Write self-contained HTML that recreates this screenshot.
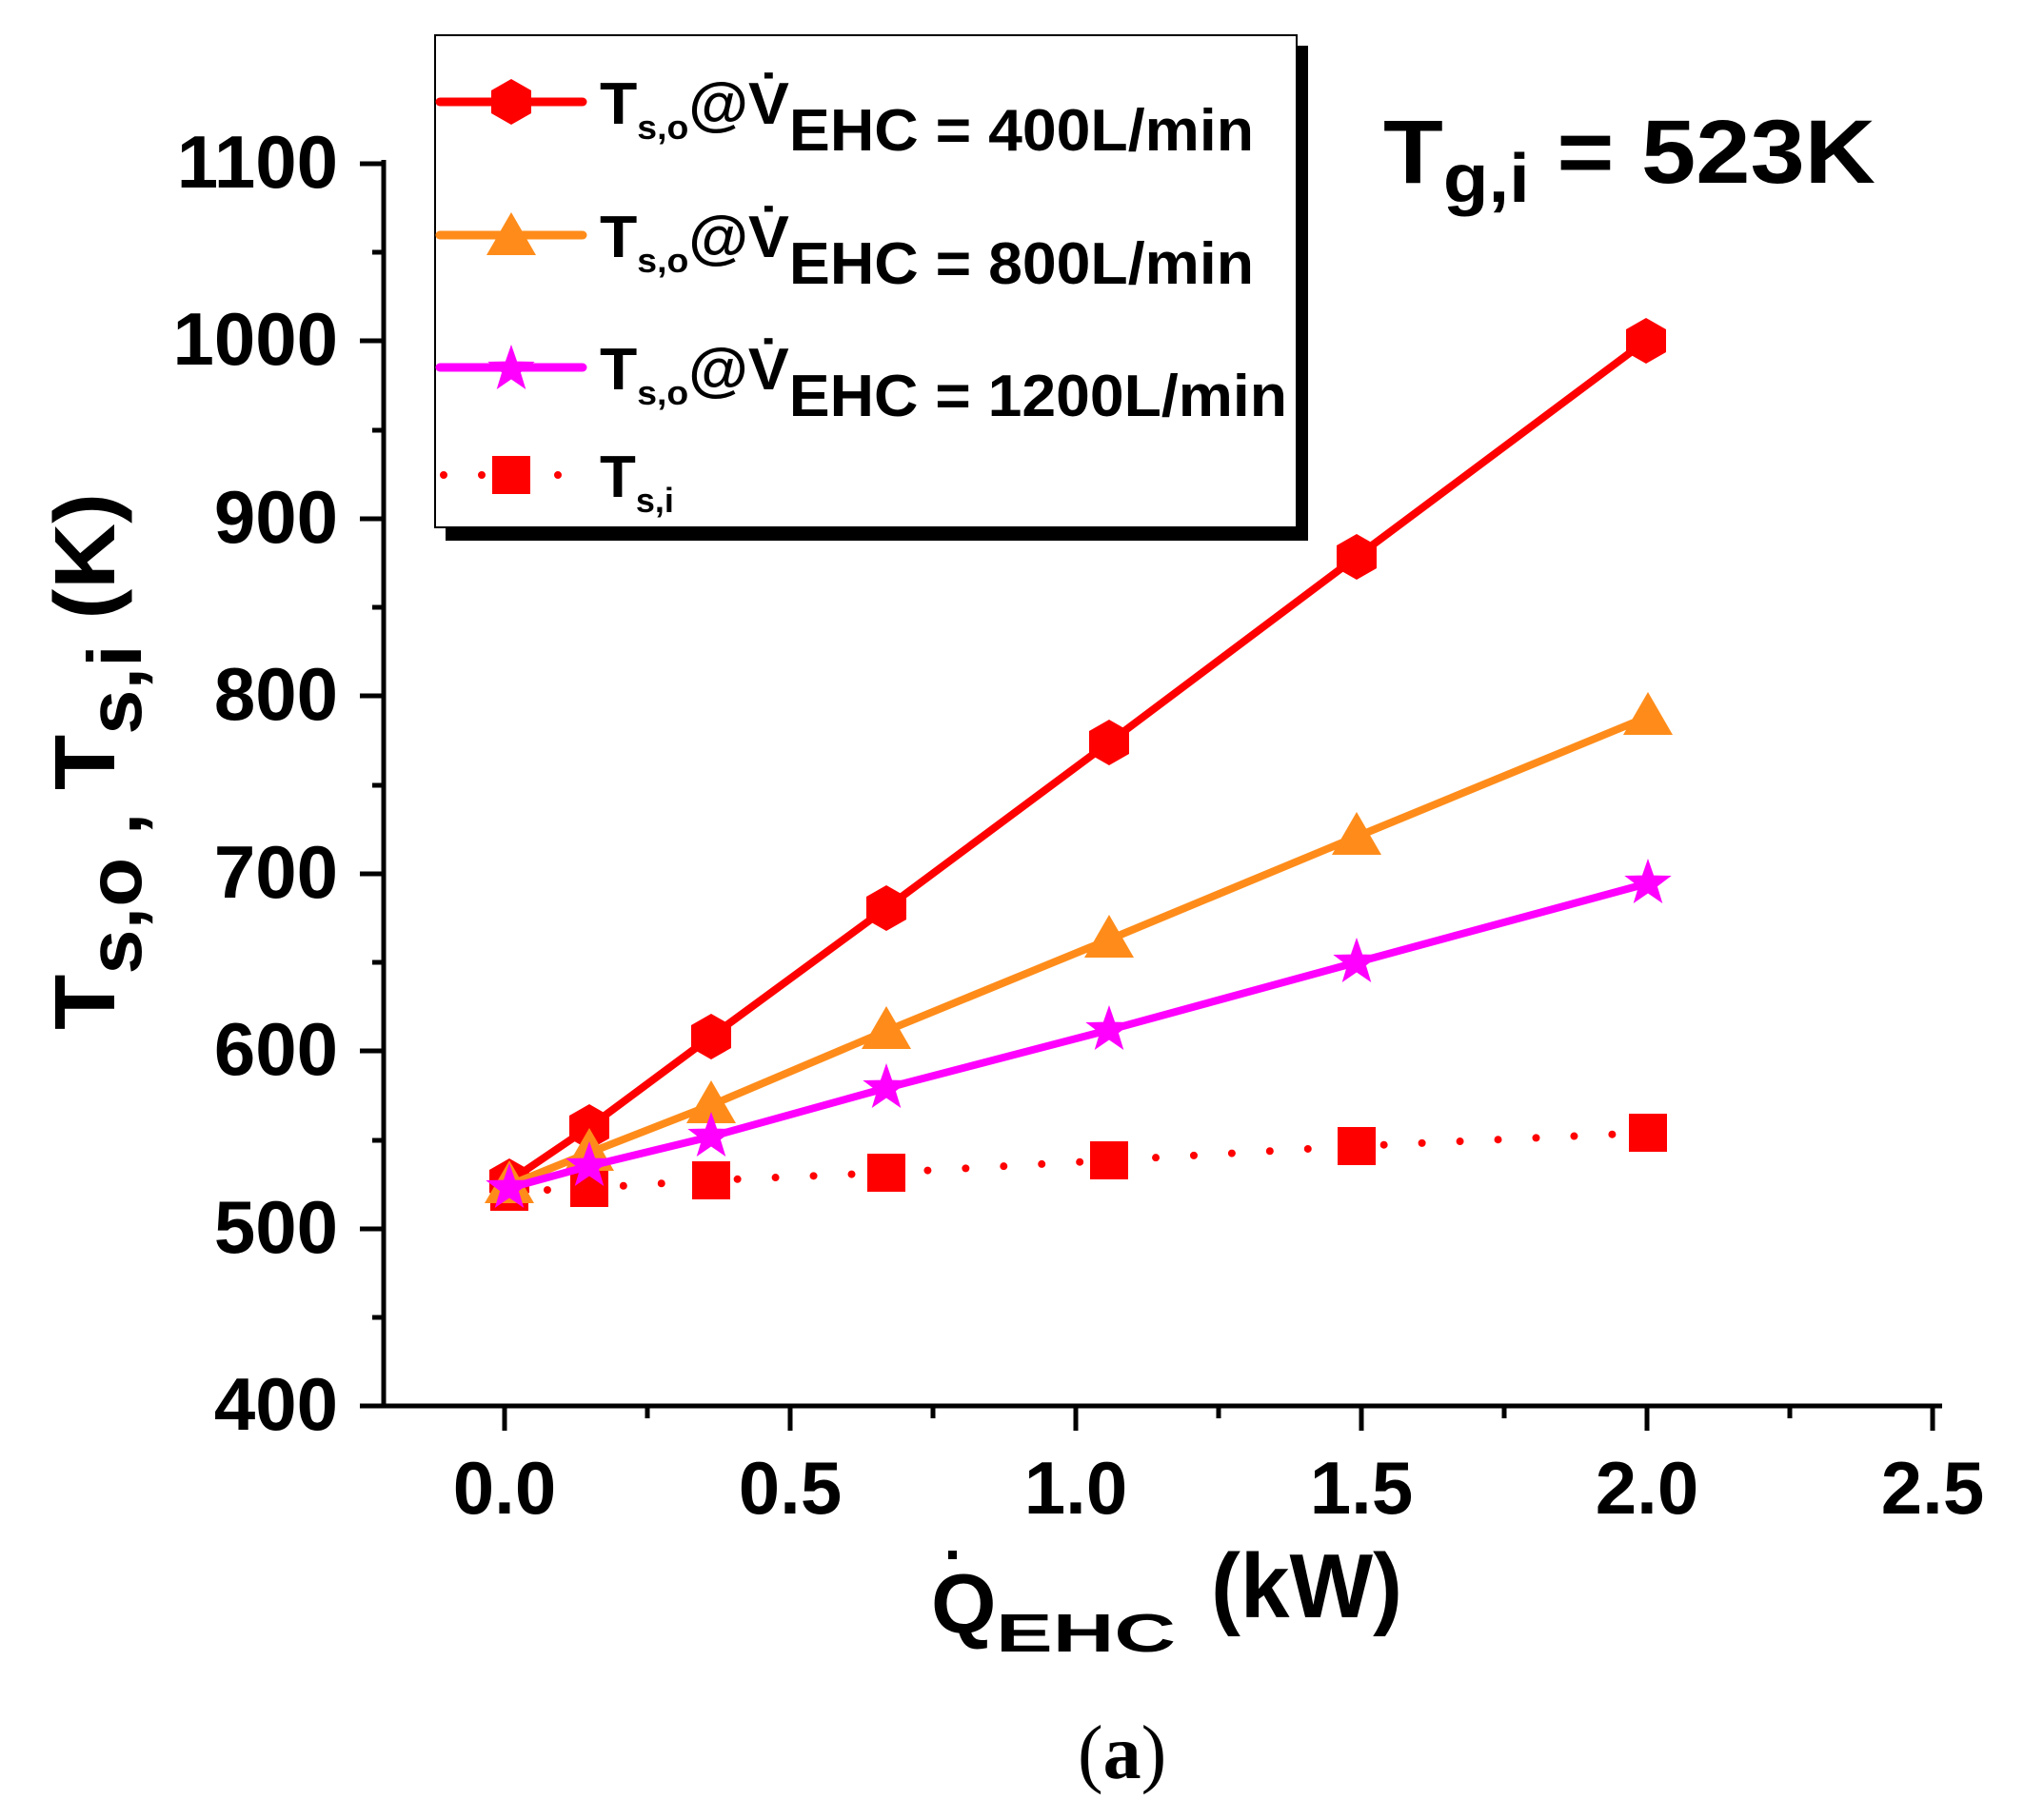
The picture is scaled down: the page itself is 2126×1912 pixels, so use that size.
<!DOCTYPE html>
<html><head><meta charset="utf-8"><style>
html,body{margin:0;padding:0;background:#fff;}
svg{display:block;}
text{font-family:"Liberation Sans",Arial,sans-serif;font-weight:bold;fill:#000;}
</style></head><body>
<svg width="2126" height="1912" viewBox="0 0 2126 1912" xmlns="http://www.w3.org/2000/svg">
<defs>
<polygon id="hex" points="0,-24 21,-12 21,12 0,24 -21,12 -21,-12"/>
<polygon id="tri" points="0,-26 26,19 -26,19"/>
<polygon id="star" points="0,-26 6.1,-8.4 24.7,-8 9.9,3.2 15.3,21 0,10.5 -15.3,21 -9.9,3.2 -24.7,-8 -6.1,-8.4"/>
<rect id="sq" x="-20" y="-20" width="40" height="40"/>
</defs>

<!-- axes -->
<g stroke="#000" stroke-width="5" fill="none">
<line x1="403" y1="168" x2="403" y2="1479"/>
<line x1="401" y1="1477" x2="2040" y2="1477"/>
<!-- y major ticks -->
<line x1="378" y1="172" x2="403" y2="172"/>
<line x1="378" y1="358" x2="403" y2="358"/>
<line x1="378" y1="545" x2="403" y2="545"/>
<line x1="378" y1="731" x2="403" y2="731"/>
<line x1="378" y1="918" x2="403" y2="918"/>
<line x1="378" y1="1104" x2="403" y2="1104"/>
<line x1="378" y1="1291" x2="403" y2="1291"/>
<line x1="378" y1="1477" x2="403" y2="1477"/>
<!-- y minor -->
<line x1="391" y1="265" x2="403" y2="265"/>
<line x1="391" y1="452" x2="403" y2="452"/>
<line x1="391" y1="638" x2="403" y2="638"/>
<line x1="391" y1="825" x2="403" y2="825"/>
<line x1="391" y1="1011" x2="403" y2="1011"/>
<line x1="391" y1="1198" x2="403" y2="1198"/>
<line x1="391" y1="1384" x2="403" y2="1384"/>
<!-- x major -->
<line x1="530" y1="1477" x2="530" y2="1503"/>
<line x1="830" y1="1477" x2="830" y2="1503"/>
<line x1="1130" y1="1477" x2="1130" y2="1503"/>
<line x1="1430" y1="1477" x2="1430" y2="1503"/>
<line x1="1730" y1="1477" x2="1730" y2="1503"/>
<line x1="2030" y1="1477" x2="2030" y2="1503"/>
<!-- x minor -->
<line x1="680" y1="1477" x2="680" y2="1490"/>
<line x1="980" y1="1477" x2="980" y2="1490"/>
<line x1="1280" y1="1477" x2="1280" y2="1490"/>
<line x1="1580" y1="1477" x2="1580" y2="1490"/>
<line x1="1880" y1="1477" x2="1880" y2="1490"/>
</g>

<!-- y tick labels -->
<g font-size="78" text-anchor="end">
<text x="355" y="197">1100</text>
<text x="355" y="383">1000</text>
<text x="355" y="570">900</text>
<text x="355" y="756">800</text>
<text x="355" y="943">700</text>
<text x="355" y="1129">600</text>
<text x="355" y="1316">500</text>
<text x="355" y="1502">400</text>
</g>
<!-- x tick labels -->
<g font-size="78" text-anchor="middle">
<text x="530" y="1590">0.0</text>
<text x="830" y="1590">0.5</text>
<text x="1130" y="1590">1.0</text>
<text x="1430" y="1590">1.5</text>
<text x="1730" y="1590">2.0</text>
<text x="2030" y="1590">2.5</text>
</g>

<!-- series: Ts,i dotted squares -->
<polyline points="535,1252 619,1248 747,1240 931,1232 1165,1219 1425,1204 1731,1190" fill="none" stroke="#ff0000" stroke-width="8" stroke-linecap="round" stroke-dasharray="0 40"/>
<g fill="#ff0000">
<use href="#sq" x="535" y="1252"/><use href="#sq" x="619" y="1248"/><use href="#sq" x="747" y="1240"/><use href="#sq" x="931" y="1232"/><use href="#sq" x="1165" y="1219"/><use href="#sq" x="1425" y="1204"/><use href="#sq" x="1731" y="1190"/>
</g>
<!-- red -->
<polyline points="535,1241 619,1184 747,1089 931,954 1165,780 1425,585 1729,358" fill="none" stroke="#ff0000" stroke-width="8"/>
<g fill="#ff0000">
<use href="#hex" x="535" y="1241"/><use href="#hex" x="619" y="1184"/><use href="#hex" x="747" y="1089"/><use href="#hex" x="931" y="954"/><use href="#hex" x="1165" y="780"/><use href="#hex" x="1425" y="585"/><use href="#hex" x="1729" y="358"/>
</g>
<!-- orange -->
<polyline points="535,1245 619,1211 747,1161 931,1083 1165,987 1425,879 1731,753" fill="none" stroke="#ff8c1a" stroke-width="8"/>
<g fill="#ff8c1a">
<use href="#tri" x="535" y="1245"/><use href="#tri" x="619" y="1211"/><use href="#tri" x="747" y="1161"/><use href="#tri" x="931" y="1083"/><use href="#tri" x="1165" y="987"/><use href="#tri" x="1425" y="879"/><use href="#tri" x="1731" y="753"/>
</g>
<!-- magenta -->
<polyline points="535,1248 619,1225 747,1194 931,1143 1165,1082 1425,1011 1731,928" fill="none" stroke="#ff00ff" stroke-width="8"/>
<g fill="#ff00ff">
<use href="#star" x="535" y="1248"/><use href="#star" x="619" y="1225"/><use href="#star" x="747" y="1194"/><use href="#star" x="931" y="1143"/><use href="#star" x="1165" y="1082"/><use href="#star" x="1425" y="1011"/><use href="#star" x="1731" y="928"/>
</g>

<!-- legend -->
<rect x="468" y="48" width="906" height="520" fill="#000"/>
<rect x="457" y="37" width="905" height="517" fill="#fff" stroke="#000" stroke-width="2"/>
<line x1="462" y1="107" x2="612" y2="107" stroke="#ff0000" stroke-width="9" stroke-linecap="round"/>
<use href="#hex" x="537" y="107" fill="#ff0000"/>
<line x1="462" y1="247" x2="612" y2="247" stroke="#ff8c1a" stroke-width="9" stroke-linecap="round"/>
<use href="#tri" x="537" y="249" fill="#ff8c1a"/>
<line x1="462" y1="386" x2="612" y2="386" stroke="#ff00ff" stroke-width="9" stroke-linecap="round"/>
<use href="#star" x="537" y="388" fill="#ff00ff"/>
<line x1="466" y1="499" x2="590" y2="499" stroke="#ff0000" stroke-width="8" stroke-linecap="round" stroke-dasharray="0 40"/>
<use href="#sq" x="537" y="499" fill="#ff0000"/>

<text x="630" y="130" font-size="62" textLength="687" lengthAdjust="spacingAndGlyphs">T<tspan font-size="36" dy="16">s,o</tspan><tspan dy="-16">@V̇</tspan><tspan dy="28">EHC = 400L/min</tspan></text>
<text x="630" y="270" font-size="62" textLength="687" lengthAdjust="spacingAndGlyphs">T<tspan font-size="36" dy="16">s,o</tspan><tspan dy="-16">@V̇</tspan><tspan dy="28">EHC = 800L/min</tspan></text>
<text x="630" y="409" font-size="62" textLength="722" lengthAdjust="spacingAndGlyphs">T<tspan font-size="36" dy="16">s,o</tspan><tspan dy="-16">@V̇</tspan><tspan dy="28">EHC = 1200L/min</tspan></text>
<text x="630" y="522" font-size="62">T<tspan font-size="36" dy="16">s,i</tspan></text>

<!-- annotation -->
<text x="1453" y="192" font-size="95" textLength="517" lengthAdjust="spacingAndGlyphs">T<tspan font-size="72" dy="20">g,i</tspan><tspan dy="-20"> =  523K</tspan></text>

<!-- y axis label -->
<text transform="translate(120,1082) rotate(-90)" font-size="90" textLength="564" lengthAdjust="spacingAndGlyphs">T<tspan font-size="80" dy="28">s,o , </tspan><tspan dy="-28">T</tspan><tspan font-size="80" dy="28">s,i</tspan><tspan dy="-28"> (K)</tspan></text>

<!-- x axis label -->
<text x="978" y="1715" font-size="88">Q</text>
<rect x="996" y="1629" width="9" height="9" fill="#000"/>
<text x="1046" y="1735" font-size="57" textLength="189" lengthAdjust="spacingAndGlyphs">EHC</text>
<text x="1272" y="1699" font-size="96" textLength="201" lengthAdjust="spacingAndGlyphs">(kW)</text>

<text x="1132" y="1868" font-size="80" style="font-family:'Liberation Serif',serif;font-weight:normal">(<tspan font-weight="bold">a</tspan>)</text>
</svg>
</body></html>
